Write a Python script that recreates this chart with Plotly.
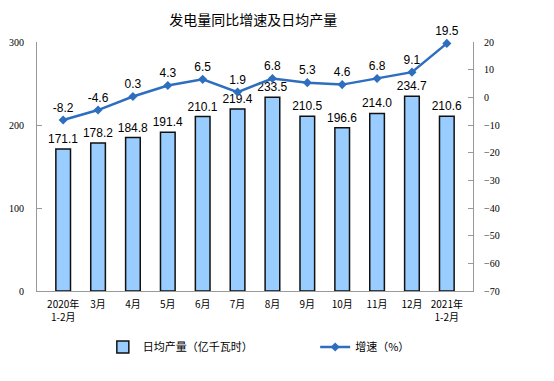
import plotly.graph_objects as go

categories = ["2020年<br>1-2月", "3月", "4月", "5月", "6月", "7月", "8月", "9月", "10月", "11月", "12月", "2021年<br>1-2月"]
output_vals = [171.1, 178.2, 184.8, 191.4, 210.1, 219.4, 233.5, 210.5, 196.6, 214.0, 234.7, 210.6]
growth_vals = [-8.2, -4.6, 0.3, 4.3, 6.5, 1.9, 6.8, 5.3, 4.6, 6.8, 9.1, 19.5]
left_ticks = [0, 100, 200, 300]
right_ticks = [20, 10, 0, -10, -20, -30, -40, -50, -60, -70]

fig = go.Figure()
fig.add_trace(go.Bar(
    x=categories, y=output_vals, name="日均产量（亿千瓦时）",
    marker=dict(color="#99CCFF", line=dict(color="#111111", width=1.5)),
    width=0.42,
    text=[f"{v:.1f}" for v in output_vals], textposition="outside",
    constraintext="none",
    textfont=dict(family="Arial, Liberation Sans", size=12, color="#000000"),
    cliponaxis=False, legend="legend",
))
fig.add_trace(go.Scatter(
    x=categories, y=growth_vals, name="增速（%）", yaxis="y2",
    mode="lines+markers+text",
    line=dict(color="#2E6EBF", width=2.5),
    marker=dict(symbol="diamond", size=7, color="#2E6EBF"),
    text=[f"{v:.1f}" for v in growth_vals], textposition="top center",
    textfont=dict(family="Arial, Liberation Sans", size=12, color="#000000"),
    cliponaxis=False, legend="legend2",
))

tickfont = dict(family="Liberation Serif, Times New Roman, serif", size=10, color="#000000")
legfont = dict(family="Noto Sans CJK SC", size=11, color="#000000")
fig.update_layout(
    width=554, height=381,
    margin=dict(l=37, r=81, t=42, b=90),
    paper_bgcolor="white", plot_bgcolor="white",
    title=dict(text="发电量同比增速及日均产量", x=0.457, xanchor="center", y=0.948, yanchor="middle",
               font=dict(family="Noto Sans CJK SC", size=14, color="#000000")),
    showlegend=True,
    legend=dict(orientation="h", x=0.151, xanchor="left", y=-0.225, yanchor="middle",
                font=legfont, itemwidth=30),
    legend2=dict(orientation="h", x=0.638, xanchor="left", y=-0.225, yanchor="middle",
                 font=legfont, itemwidth=30),
    bargap=0.5,
    xaxis=dict(showline=True, linecolor="#999999", linewidth=1, ticks="", showgrid=False,
               ticklabelstandoff=4, automargin=False,
               tickfont=dict(family="Noto Sans CJK SC", size=10, color="#000000"),
               minor=dict(ticks="outside", ticklen=4, tickcolor="#999999")),
    yaxis=dict(range=[0, 300], tickvals=left_ticks, showline=True, linecolor="#999999", linewidth=1,
               ticks="inside", ticklen=5, tickcolor="#999999", showgrid=False, zeroline=False,
               ticklabelstandoff=10, automargin=False, tickfont=tickfont),
    yaxis2=dict(range=[-70, 20], tickvals=right_ticks, overlaying="y", side="right",
                showline=True, linecolor="#999999", linewidth=1, ticks="inside", ticklen=5,
                tickcolor="#999999", showgrid=False, zeroline=False,
                ticklabelstandoff=8, automargin=False, tickfont=tickfont),
)
fig.write_html("out.html", config={"displayModeBar": False},
               post_script="document.body.style.margin='0';")
